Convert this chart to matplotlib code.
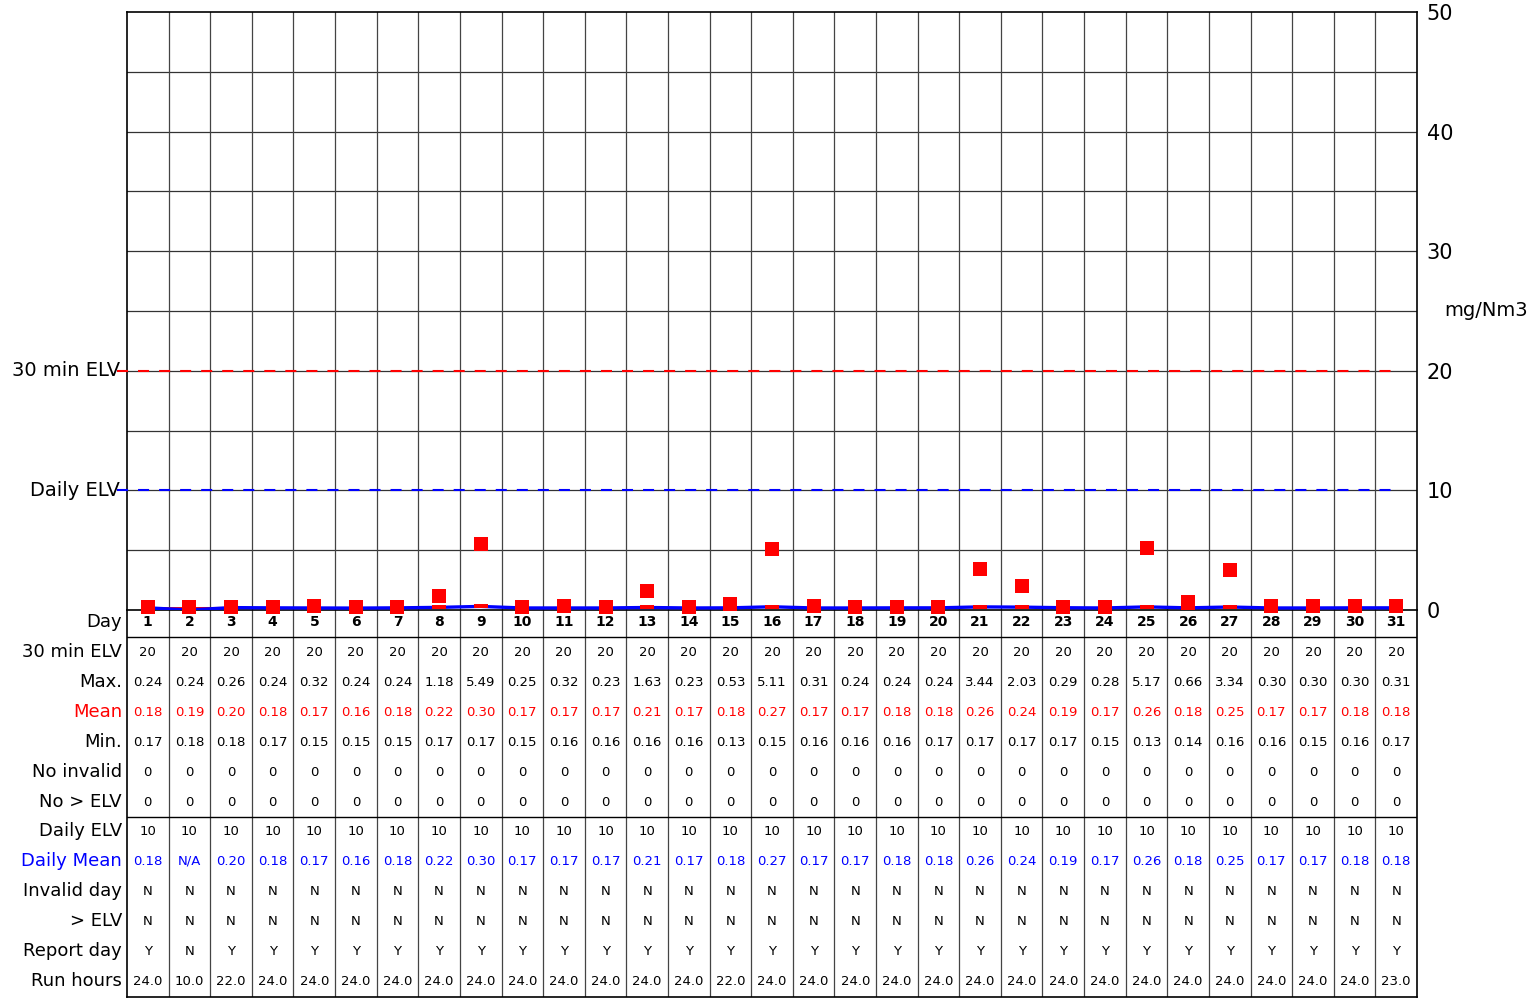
import matplotlib
matplotlib.use("Agg")
import matplotlib.pyplot as plt
import numpy as np

days = list(range(1, 32))
elv30 = [20] * 31
max_vals = [0.24, 0.24, 0.26, 0.24, 0.32, 0.24, 0.24, 1.18, 5.49, 0.25, 0.32, 0.23, 1.63, 0.23, 0.53, 5.11,
            0.31, 0.24, 0.24, 0.24, 3.44, 2.03, 0.29, 0.28, 5.17, 0.66, 3.34, 0.30, 0.30, 0.30, 0.31]
mean_vals = [0.18, 0.19, 0.20, 0.18, 0.17, 0.16, 0.18, 0.22, 0.30, 0.17, 0.17, 0.17, 0.21, 0.17, 0.18, 0.27,
             0.17, 0.17, 0.18, 0.18, 0.26, 0.24, 0.19, 0.17, 0.26, 0.18, 0.25, 0.17, 0.17, 0.18, 0.18]
min_vals = [0.17, 0.18, 0.18, 0.17, 0.15, 0.15, 0.15, 0.17, 0.17, 0.15, 0.16, 0.16, 0.16, 0.16, 0.13, 0.15,
            0.16, 0.16, 0.16, 0.17, 0.17, 0.17, 0.17, 0.15, 0.13, 0.14, 0.16, 0.16, 0.15, 0.16, 0.17]
no_invalid = [0] * 31
no_elv = [0] * 31
daily_elv = [10] * 31
daily_mean = [0.18, None, 0.20, 0.18, 0.17, 0.16, 0.18, 0.22, 0.30, 0.17, 0.17, 0.17, 0.21, 0.17, 0.18, 0.27,
              0.17, 0.17, 0.18, 0.18, 0.26, 0.24, 0.19, 0.17, 0.26, 0.18, 0.25, 0.17, 0.17, 0.18, 0.18]
invalid_day = ["N"] * 31
over_elv = ["N"] * 31
report_day = ["Y", "N"] + ["Y"] * 29
run_hours = [24.0, 10.0, 22.0, 24.0, 24.0, 24.0, 24.0, 24.0, 24.0, 24.0, 24.0, 24.0, 24.0, 24.0, 22.0, 24.0,
             24.0, 24.0, 24.0, 24.0, 24.0, 24.0, 24.0, 24.0, 24.0, 24.0, 24.0, 24.0, 24.0, 24.0, 23.0]
elv_30min = 20
elv_daily = 10
yticks = [0, 10, 20, 30, 40, 50]

W, H = 1532, 999
plt.rcParams['font.family'] = ['DejaVu Sans']
fig = plt.figure(figsize=(W / 100, H / 100), dpi=100)

L, R = 127, 1417
TOP, BOT = 12, 610
TBOT = 997

def fx(px):
    return px / W

def fy(py):
    return 1 - py / H

# table axes (drawn first, transparent background)
tax = fig.add_axes([fx(L), fy(TBOT), fx(R) - fx(L), fy(BOT) - fy(TBOT)])
tax.patch.set_visible(False)
tax.set_zorder(0)
tax.set_xlim(0.5, 31.5)
tax.set_ylim(TBOT, BOT)
tax.set_xticks([])
tax.set_yticks([])
for s in tax.spines.values():
    s.set_color('black')
    s.set_linewidth(1.2)
tax.spines['top'].set_visible(False)
for xb in np.arange(1.5, 31.5, 1):
    tax.axvline(xb, color='#444444', linewidth=0.9)
tax.axhline(637, color='black', linewidth=1.0)
tax.axhline(817, color='black', linewidth=1.0)

lab_x = 0.5 - 0.12
tax.text(lab_x, 622, 'Day', ha='right', va='center', fontsize=13)
for d in days:
    tax.text(d, 622, str(d), ha='center', va='center', fontsize=10, fontweight='bold')

def fmt2(v):
    return 'N/A' if v is None else f'{v:.2f}'

rows = [
    ('30 min ELV', [str(v) for v in elv30], 'black'),
    ('Max.', [fmt2(v) for v in max_vals], 'black'),
    ('Mean', [fmt2(v) for v in mean_vals], 'red'),
    ('Min.', [fmt2(v) for v in min_vals], 'black'),
    ('No invalid', [str(v) for v in no_invalid], 'black'),
    ('No > ELV', [str(v) for v in no_elv], 'black'),
    ('Daily ELV', [str(v) for v in daily_elv], 'black'),
    ('Daily Mean', [fmt2(v) for v in daily_mean], 'blue'),
    ('Invalid day', invalid_day, 'black'),
    ('> ELV', over_elv, 'black'),
    ('Report day', report_day, 'black'),
    ('Run hours', [f'{v:.1f}' for v in run_hours], 'black'),
]
row_y = [652, 682, 712, 742, 772, 802, 831, 861, 891, 921, 951, 981]
for (label, vals, col), yy in zip(rows, row_y):
    tax.text(lab_x, yy, label, ha='right', va='center', fontsize=13, color=col)
    for d, v in zip(days, vals):
        tax.text(d, yy, v, ha='center', va='center', fontsize=9.5, color=col)

# main plot axes
ax = fig.add_axes([fx(L), fy(BOT), fx(R) - fx(L), fy(TOP) - fy(BOT)])
ax.set_zorder(2)
ax.set_xlim(0.5, 31.5)
ax.set_ylim(0, 50)
for s in ax.spines.values():
    s.set_color('black')
    s.set_linewidth(1.2)
ax.set_xticks([])
ax.set_yticks(np.arange(5, 50, 5))
ax.tick_params(axis='y', length=0, labelleft=False)
ax.yaxis.grid(True, color='#333333', linewidth=0.9)
ax.set_axisbelow(True)
for xb in np.arange(1.5, 31.5, 1):
    ax.axvline(xb, color='#444444', linewidth=0.9, zorder=1)

# right axis labels
ax2 = ax.twinx()
ax2.set_ylim(0, 50)
ax2.set_yticks(yticks)
ax2.set_yticklabels([str(v) for v in yticks], fontsize=15)
ax2.tick_params(axis='y', length=0, pad=7)
for s in ax2.spines.values():
    s.set_visible(False)
ax.text(31.5 + 0.65, 25, 'mg/Nm3', ha='left', va='center', fontsize=14)

# ELV lines
ax.plot([0.26, 31.05], [elv_30min, elv_30min], color='red', linestyle=(0, (5.3, 4.8)), linewidth=1.5,
        clip_on=False, zorder=3)
ax.plot([0.26, 31.05], [elv_daily, elv_daily], color='blue', linestyle=(0, (5.3, 4.8)), linewidth=1.5,
        clip_on=False, zorder=3)
ax.text(0.33, elv_30min, '30 min ELV', ha='right', va='center', fontsize=14)
ax.text(0.33, elv_daily, 'Daily ELV', ha='right', va='center', fontsize=14)

x = np.array(days)
dm = np.array([v if v is not None else 0.0 for v in daily_mean])
ax.plot(x, mean_vals, color='red', linewidth=1.0, zorder=4)
ax.plot(x, dm, color='blue', linewidth=2.4, zorder=4)
rect_marker = [(-1, -0.34), (1, -0.34), (1, 0.34), (-1, 0.34), (-1, -0.34)]
ax.plot(x, mean_vals, linestyle='none', marker=rect_marker, markersize=10.5, color='red',
        markeredgewidth=0, zorder=5)
ax.plot(x, max_vals, linestyle='none', marker='s', markersize=10.5, color='red', markeredgewidth=0,
        zorder=6, clip_on=False)

fig.savefig('out.png', dpi=100)
